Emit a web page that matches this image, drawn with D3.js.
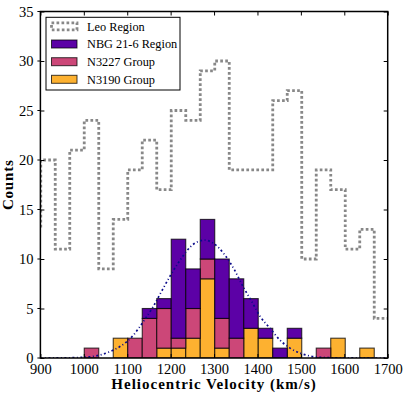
<!DOCTYPE html>
<html>
<head>
<meta charset="utf-8">
<script src="https://cdn.jsdelivr.net/npm/d3@7"></script>
<style>
  body { margin: 0; background: #fff; }
  svg text { font-family: "Liberation Serif", "DejaVu Serif", serif; fill: #000; }
</style>
</head>
<body>
<script>
// Chart data
var binStart = 1001;
var binWidth = 33.4;
// stacked counts per bin (bins from 1001 to 1669 km/s)
var n3190 = [0, 0, 2, 0, 0, 1, 1, 2, 8, 1, 0, 3, 2, 0, 2, 0, 0, 2, 0, 1];
var n3227 = [1, 0, 0, 2, 4, 4, 1, 3, 2, 3, 2, 0, 0, 0, 0, 0, 1, 0, 0, 0];
var nbg216 = [0, 0, 0, 0, 1, 1, 10, 4, 4, 6, 6, 3, 1, 1, 1, 0, 0, 0, 0, 0];

// Leo region histogram, first bin starts at 867.4 km/s
var leoStart = 867.4;
var leoCounts = [13, 20, 11, 21, 24, 9, 14, 19, 22, 17, 25, 24, 29, 30, 19, 19, 19, 26, 27, 10, 19, 17, 11, 13, 4];

// gaussian fit
var fitVel = [900, 950, 1000, 1020, 1037, 1068, 1085, 1114, 1139, 1160, 1180, 1199, 1219, 1245, 1260, 1279, 1298, 1325, 1347, 1367, 1387, 1406, 1429, 1452, 1475, 1498, 1521, 1550, 1600, 1700];
var fitCount = [0, 0.01, 0.08, 0.15, 0.3, 0.8, 1.2, 2.3, 3.8, 5.2, 6.8, 8.3, 9.7, 11.2, 11.7, 11.9, 11.6, 10.4, 8.9, 7.2, 5.7, 4.2, 3.0, 1.8, 1.0, 0.5, 0.2, 0.06, 0.01, 0];

var xTicks = [900, 1000, 1100, 1200, 1300, 1400, 1500, 1600, 1700];
var yTicks = [0, 5, 10, 15, 20, 25, 30, 35];

var seriesNames = ["N3190 Group", "N3227 Group", "NBG 21-6 Region"];
var seriesColors = ["#fdb130", "#cc4778", "#5c01a6"];

// Chart Params
var svgWidth = 409;
var svgHeight = 397;
var margin = { top: 11.5, right: 21.3, bottom: 39, left: 40.4 };
var width = svgWidth - margin.left - margin.right;
var height = svgHeight - margin.top - margin.bottom;

var svg = d3.select("body")
  .append("svg")
  .attr("width", svgWidth)
  .attr("height", svgHeight);

var chartGroup = svg.append("g")
  .attr("transform", `translate(${margin.left}, ${margin.top})`);

var xScale = d3.scaleLinear().domain([900, 1700]).range([0, width]);
var yScale = d3.scaleLinear().domain([0, 35]).range([height, 0]);

svg.append("defs").append("clipPath")
  .attr("id", "plotClip")
  .append("rect")
  .attr("width", width)
  .attr("height", height);

var plot = chartGroup.append("g").attr("clip-path", "url(#plotClip)");

// Stack the three groups
var rows = n3190.map(function(d, i) {
  return { x0: binStart + i * binWidth, a: n3190[i], b: n3227[i], c: nbg216[i] };
});
var stack = d3.stack().keys(["a", "b", "c"])(rows);

stack.forEach(function(layer, k) {
  plot.selectAll(".bar" + k)
    .data(layer.filter(d => d[1] - d[0] > 0))
    .enter()
    .append("rect")
    .attr("x", d => xScale(d.data.x0))
    .attr("y", d => yScale(d[1]))
    .attr("width", d => xScale(d.data.x0 + binWidth) - xScale(d.data.x0))
    .attr("height", d => yScale(d[0]) - yScale(d[1]))
    .attr("fill", seriesColors[k])
    .attr("stroke", "#000")
    .attr("stroke-opacity", 0.75)
    .attr("stroke-width", 1.1);
});

// Leo region step outline
var leoPts = [[leoStart, 0]];
leoCounts.forEach(function(c, i) {
  leoPts.push([leoStart + i * binWidth, c]);
  leoPts.push([leoStart + (i + 1) * binWidth, c]);
});
leoPts.push([leoStart + leoCounts.length * binWidth, 0]);

var leoLine = d3.line()
  .x(d => xScale(d[0]))
  .y(d => yScale(d[1]));

plot.append("path")
  .datum(leoPts)
  .attr("d", leoLine)
  .attr("fill", "none")
  .attr("stroke", "#888")
  .attr("stroke-width", 2.8)
  .attr("stroke-dasharray", "2.7,2.3");

// gaussian fit
var fitLine = d3.line()
  .x((d, i) => xScale(fitVel[i]))
  .y(d => yScale(d))
  .curve(d3.curveMonotoneX);

plot.append("path")
  .datum(fitCount)
  .attr("d", fitLine)
  .attr("fill", "none")
  .attr("stroke", "#0a0a8a")
  .attr("stroke-width", 1.7)
  .attr("stroke-dasharray", "2,2.5,1,2.5");

// axes (ticks pointing inward)
var tickLen = 4;
var bottomAxis = d3.axisBottom(xScale).tickValues(xTicks).tickSizeInner(-tickLen).tickSizeOuter(0).tickPadding(6).tickFormat(d3.format("d"));
var topAxis = d3.axisTop(xScale).tickValues(xTicks).tickSizeInner(-tickLen).tickSizeOuter(0).tickFormat("");
var leftAxis = d3.axisLeft(yScale).tickValues(yTicks).tickSizeInner(-tickLen).tickSizeOuter(0).tickPadding(7);
var rightAxis = d3.axisRight(yScale).tickValues(yTicks).tickSizeInner(-tickLen).tickSizeOuter(0).tickFormat("");

function styleAxis(g) {
  g.select(".domain").remove();
  g.selectAll("line").attr("stroke", "#000").attr("stroke-width", 1);
  g.selectAll("text")
    .style("font-family", "'Liberation Serif', serif")
    .style("font-size", "14.5px")
    .attr("fill", "#000");
}

chartGroup.append("g").attr("transform", `translate(0, ${height})`).call(bottomAxis).call(styleAxis);
chartGroup.append("g").call(topAxis).call(styleAxis);
chartGroup.append("g").call(leftAxis).call(styleAxis);
chartGroup.append("g").attr("transform", `translate(${width}, 0)`).call(rightAxis).call(styleAxis);

// short outward marks on the left axis
chartGroup.append("g").selectAll("line")
  .data(yTicks)
  .enter()
  .append("line")
  .attr("x1", -3).attr("x2", 0)
  .attr("y1", d => yScale(d)).attr("y2", d => yScale(d))
  .attr("stroke", "#000");

// frame
chartGroup.append("rect")
  .attr("width", width)
  .attr("height", height)
  .attr("fill", "none")
  .attr("stroke", "#000")
  .attr("stroke-width", 1.5);

// axis labels
svg.append("text")
  .attr("x", margin.left + width / 2)
  .attr("y", 389)
  .attr("text-anchor", "middle")
  .style("font-size", "15px")
  .style("font-weight", "bold")
  .style("letter-spacing", "1px")
  .text("Heliocentric Velocity (km/s)");

svg.append("text")
  .attr("transform", `translate(13, ${margin.top + height / 2}) rotate(-90)`)
  .attr("text-anchor", "middle")
  .style("font-size", "15px")
  .style("font-weight", "bold")
  .style("letter-spacing", "0.8px")
  .text("Counts");

// legend
var legend = svg.append("g").attr("transform", "translate(46, 17.3)");
legend.append("rect")
  .attr("width", 134)
  .attr("height", 72.7)
  .attr("fill", "#fff")
  .attr("stroke", "#000")
  .attr("stroke-width", 1);

var legendY = [9, 26.7, 44.4, 62];
legend.append("rect")
  .attr("x", 5.5).attr("y", legendY[0] - 3.5)
  .attr("width", 25.5).attr("height", 7)
  .attr("fill", "none")
  .attr("stroke", "#888")
  .attr("stroke-width", 2.8)
  .attr("stroke-dasharray", "2.7,2.3");

var legendNames = ["Leo Region", "NBG 21-6 Region", "N3227 Group", "N3190 Group"];
var legendFill = [null, seriesColors[2], seriesColors[1], seriesColors[0]];

legendNames.forEach(function(name, i) {
  if (legendFill[i]) {
    legend.append("rect")
      .attr("x", 5.5).attr("y", legendY[i] - 4)
      .attr("width", 25.5).attr("height", 8)
      .attr("fill", legendFill[i])
      .attr("stroke", "#000")
      .attr("stroke-opacity", 0.75)
      .attr("stroke-width", 1);
  }
  legend.append("text")
    .attr("x", 41)
    .attr("y", legendY[i] + 4.5)
    .style("font-size", "12.3px")
    .text(name);
});
</script>
</body>
</html>
